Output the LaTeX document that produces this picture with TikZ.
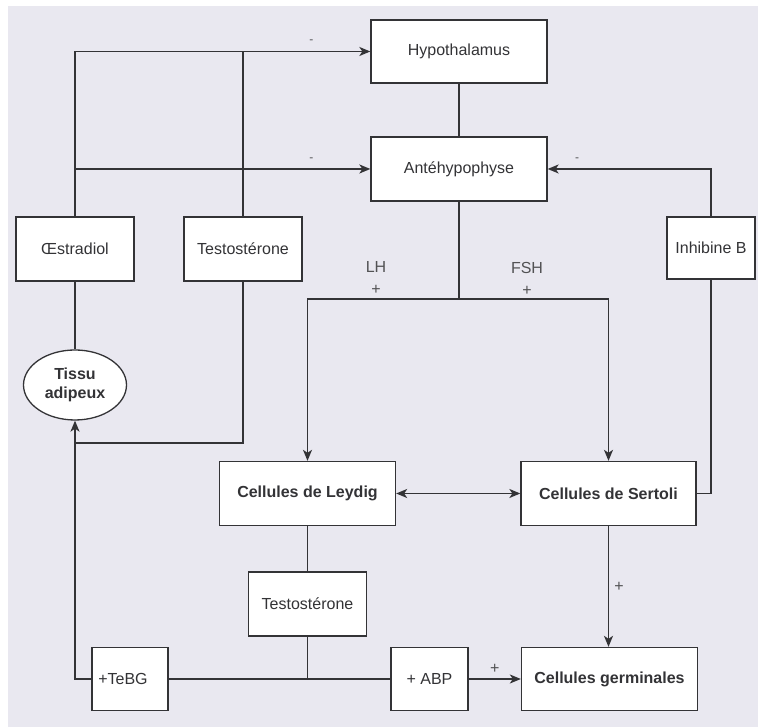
\documentclass[tikz,border=0pt]{standalone}
\usepackage{fontspec}
\setmainfont{Liberation Sans}
\usepackage{xcolor}
\usetikzlibrary{arrows.meta,positioning,calc,shapes.geometric}
\definecolor{bgpaper}{HTML}{E9E8F0}
\definecolor{ink}{HTML}{333336}
\tikzset{
  box/.style={draw=ink, fill=white, line width=1.3pt, align=center, inner sep=2pt,
    font=\fontsize{16}{19}\selectfont, text=ink},
  cell/.style={box, minimum width=176pt, minimum height=64pt, font=\fontsize{16}{19}\selectfont\bfseries},
  horm/.style={box, minimum width=118pt, minimum height=64pt},
  lbl/.style={font=\fontsize{16}{22}\selectfont, text=ink!85, align=center, inner sep=1pt},
  fl/.style={-{Stealth[length=11pt,width=9pt,inset=3pt]}, line width=1.6pt, draw=ink},
  ln/.style={line width=1.6pt, draw=ink},
}
\begin{document}
\begin{tikzpicture}[x=1pt,y=1pt]
  \useasboundingbox (0,0) rectangle (758,727);
  \fill[bgpaper] (8,0) rectangle (758,721);
  % axe hypothalamo-hypophysaire
  \node[horm, minimum width=176pt, minimum height=63pt] (hyp) at (459,675.5) {Hypothalamus};
  \node[horm, minimum width=176pt] (ante) at (459,558) {Antéhypophyse};
  \node[horm, minimum width=88pt, minimum height=62pt] (inhib) at (711,479) {Inhibine B};
  \node[horm] (oestr) at (75,478) {Œstradiol};
  \node[horm] (testoA) at (243,478) {Testostérone};
  \node[draw=ink, fill=white, line width=1.3pt, ellipse, minimum width=103pt, minimum height=70pt,
    inner sep=0pt, align=center, text=ink, font=\fontsize{16}{19}\selectfont\bfseries] (tissu) at (75,342) {Tissu\\adipeux};
  % testicule
  \node[cell] (leydig) at (307.5,233.5) {Cellules de Leydig};
  \node[cell, minimum width=175pt] (sertoli) at (608.5,233.5) {Cellules de Sertoli};
  \node[horm] (testoB) at (307.5,123) {Testostérone};
  \node[horm, minimum width=76pt, minimum height=63pt, align=left] (tebg) at (130,48) {+TeBG\hspace*{14pt}};
  \node[horm, minimum width=77pt, minimum height=63pt] (abp) at (429.5,48) {+ ABP};
  \node[cell, minimum height=63pt] (germ) at (609.5,48) {Cellules germinales};
  \coordinate (split) at (ante.south |- 0,428);
  \coordinate (join) at (tissu.south |- 0,284);
  % retrocontroles
  \draw[fl] (oestr.north) |- (hyp.west) node[lbl, font=\fontsize{12}{14}\selectfont, pos=0.9, above=6pt] {-};
  \draw[fl] (oestr.north |- ante.west) -- (ante.west) node[lbl, font=\fontsize{12}{14}\selectfont, pos=0.8, above=6pt] {-};
  \draw[ln] (testoA.north) -- (testoA.north |- hyp.west);
  \draw[fl] (inhib.north) |- (ante.east) node[lbl, font=\fontsize{12}{14}\selectfont, pos=0.91, above=6pt] {-};
  \draw[ln] (inhib.south) |- (sertoli.east);
  \draw[ln] (hyp) -- (ante);
  % LH / FSH
  \draw[ln] (ante.south) -- (split);
  \draw[fl] (split) -| (leydig.north);
  \draw[fl] (split) -| (sertoli.north);
  \node[lbl] (lh) at (376,449) {LH\\+};
  \node[lbl] (fsh) at (527,448) {FSH\\+};
  \draw[{Stealth[length=11pt,width=9pt,inset=3pt]}-{Stealth[length=11pt,width=9pt,inset=3pt]}, ln] (leydig) -- (sertoli);
  \draw[fl] (sertoli.south) -- (sertoli.south |- germ.north) node[lbl, midway, right=4pt] {+};
  % testosterone et tissu adipeux
  \draw[ln] (oestr.south) -- (tissu.north);
  \draw[ln] (testoA.south) |- (join);
  \draw[ln] (leydig.south) -- (testoB.north);
  \draw[ln] (testoB.south) -- (testoB.south |- tebg.east);
  \draw[ln] (tebg.east) -- (abp.west);
  \draw[fl] (tebg.west) -| (tissu.south);
  \draw[fl] (abp.east) -- (germ.west) node[lbl, midway, above=4pt] {+};
\end{tikzpicture}
\end{document}
